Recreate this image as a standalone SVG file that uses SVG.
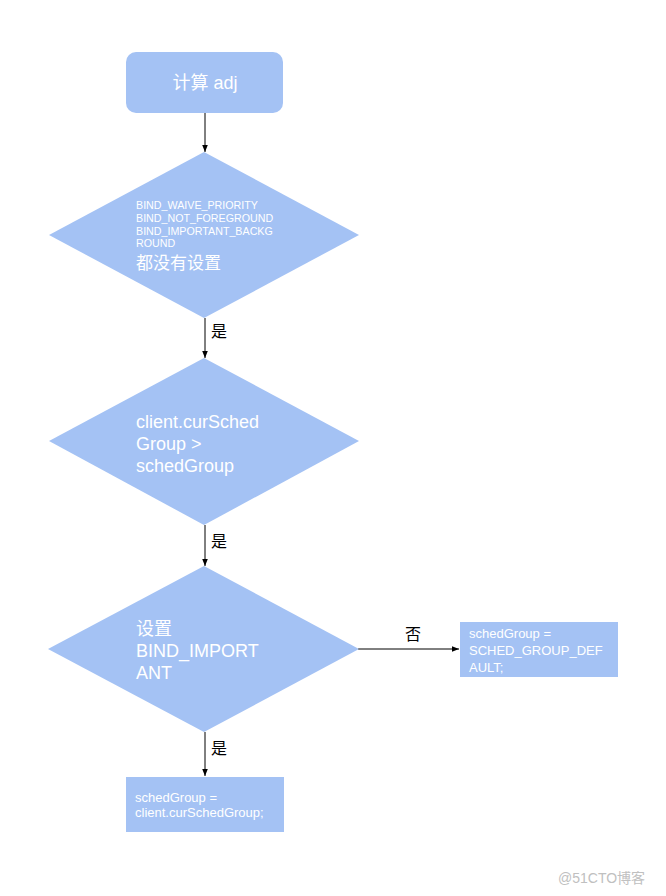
<svg xmlns="http://www.w3.org/2000/svg" width="666" height="896" viewBox="0 0 666 896">
<style>
.shape{fill:#a4c2f4;}
.t{fill:#ffffff;font-family:"Liberation Sans","Noto Sans CJK SC",sans-serif;}
.lbl{fill:#000000;font-family:"Noto Sans CJK SC","Liberation Sans",sans-serif;font-size:16px;}
.conn{stroke:#000000;stroke-width:1;fill:none;marker-end:url(#arr);}
</style>
<defs>
<marker id="arr" viewBox="0 0 10 10" refX="10" refY="5" markerWidth="7" markerHeight="7" markerUnits="userSpaceOnUse" orient="auto">
<path d="M0,1 L10,5 L0,9 Z" fill="#000000"/>
</marker>
</defs>
<rect width="666" height="896" fill="#ffffff"/>
<g id="connectors">
<line class="conn" x1="205" y1="113" x2="205" y2="152"/>
<line class="conn" x1="205" y1="318" x2="205" y2="358"/>
<line class="conn" x1="205" y1="525" x2="205" y2="566"/>
<line class="conn" x1="205" y1="732" x2="205" y2="776"/>
<line class="conn" x1="358" y1="649" x2="459" y2="649"/>
<text class="lbl" x="211" y="337">是</text>
<text class="lbl" x="211" y="547">是</text>
<text class="lbl" x="211" y="754">是</text>
<text class="lbl" x="405" y="640">否</text>
</g>
<g id="start">
<rect class="shape" x="126" y="52" width="157" height="61" rx="10" ry="10"/>
<text class="t" x="205" y="89" font-size="18" text-anchor="middle">计算 adj</text>
</g>
<g id="decision1">
<polygon class="shape" points="204,152 359,235 204,318 49,235"/>
<text class="t" font-size="10.7">
<tspan x="136" y="209">BIND_WAIVE_PRIORITY</tspan>
<tspan x="136" y="222">BIND_NOT_FOREGROUND</tspan>
<tspan x="136" y="235">BIND_IMPORTANT_BACKG</tspan>
<tspan x="136" y="247">ROUND</tspan>
</text>
<text class="t" x="136" y="269" font-size="17">都没有设置</text>
</g>
<g id="decision2">
<polygon class="shape" points="204,358 359,441 204,525 49,441"/>
<text class="t" font-size="18">
<tspan x="136" y="428">client.curSched</tspan>
<tspan x="136" y="450">Group &gt;</tspan>
<tspan x="136" y="472">schedGroup</tspan>
</text>
</g>
<g id="decision3">
<polygon class="shape" points="204,566 359,649 204,732 48,649"/>
<text class="t" font-size="18">
<tspan x="136" y="635">设置</tspan>
<tspan x="136" y="657">BIND_IMPORT</tspan>
<tspan x="136" y="679">ANT</tspan>
</text>
</g>
<g id="defaultBox">
<rect class="shape" x="460" y="622" width="158" height="55"/>
<text class="t" font-size="13">
<tspan x="469" y="638">schedGroup =</tspan>
<tspan x="469" y="655">SCHED_GROUP_DEF</tspan>
<tspan x="469" y="672">AULT;</tspan>
</text>
</g>
<g id="assignBox">
<rect class="shape" x="126" y="777" width="158" height="55"/>
<text class="t" font-size="13">
<tspan x="135" y="802">schedGroup =</tspan>
<tspan x="135" y="817">client.curSchedGroup;</tspan>
</text>
</g>
<text x="558" y="883" font-size="14" fill="#c0c0c0" font-family="'Liberation Sans','Noto Sans CJK SC',sans-serif">@51CTO博客</text>
</svg>
